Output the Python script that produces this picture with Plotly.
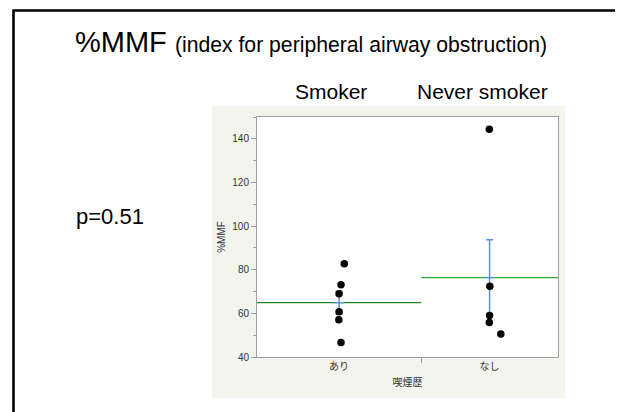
import numpy as np
import plotly.graph_objects as go

# ---- data ----
groups = ["あり", "なし"]                 # 喫煙歴: smoker / never smoker
smoker_vals = [82.7, 73.1, 69.0, 60.7, 57.1, 46.7]
smoker_jitter = [0.19, 0.07, 0.0, 0.0, -0.01, 0.07]
never_vals = [144.4, 72.4, 59.0, 55.8, 50.5]
never_jitter = [-0.01, 0.01, 0.0, -0.01, 0.41]
header_labels = ["Smoker", "Never smoker"]
y_ticks = [40, 60, 80, 100, 120, 140]
p_text = "p=0.51"

W, H = 623, 412
OFF = 8  # page body margin offset
L, R, T, B = 257 - OFF, 558 - OFF, 117 - OFF, 357 - OFF   # plot area in px


def px(x):
    return (x - OFF - L) / (R - L)


def py(y):
    return (B - (y - OFF)) / (B - T)


# group sections sized by n (JMP style)
n1, n2 = len(smoker_vals), len(never_vals)
sections = [(0, n1), (n1, n1 + n2)]
centers = [(a + b) / 2 for a, b in sections]
all_vals = [smoker_vals, never_vals]
all_jit = [smoker_jitter, never_jitter]

fig = go.Figure()

mean_colors = ["#228a22", "#2fa82f"]
blue = "#5a8ef5"
for i, vals in enumerate(all_vals):
    v = np.array(vals)
    m = v.mean()
    se = v.std(ddof=1) / np.sqrt(len(v))
    a, b = sections[i]
    fig.add_trace(go.Scatter(x=[a, b], y=[m, m], mode="lines",
                             line=dict(color=mean_colors[i], width=1.3),
                             hoverinfo="skip", showlegend=False))
    fig.add_trace(go.Scatter(x=[centers[i]], y=[m], mode="markers",
                             marker=dict(symbol="line-ew-open", size=7,
                                         color=blue, line=dict(color=blue, width=1.3)),
                             error_y=dict(type="data", array=[se], visible=True,
                                          color=blue, thickness=1.5, width=3.5),
                             hoverinfo="skip", showlegend=False))

for i, vals in enumerate(all_vals):
    xs = [centers[i] + j for j in all_jit[i]]
    fig.add_trace(go.Scatter(x=xs, y=vals, mode="markers",
                             marker=dict(color="black", size=7.5),
                             showlegend=False))

shapes = [
    # gray report panel
    dict(type="rect", xref="paper", yref="paper", layer="below",
         x0=px(212), x1=px(565), y0=py(398), y1=py(106),
         fillcolor="#f4f4ef", line=dict(width=0)),
    # white plot area
    dict(type="rect", xref="paper", yref="paper", layer="below",
         x0=0, x1=1, y0=0, y1=1, fillcolor="white", line=dict(width=0)),
    # outer black frame
    dict(type="rect", xref="paper", yref="paper",
         x0=px(13.5), x1=px(620), y0=py(440), y1=py(10.5),
         line=dict(color="black", width=2.6)),
]

annotations = [
    dict(text="%MMF <span style='font-size:21.2px'>(index for peripheral airway obstruction)</span>",
         x=px(73), y=py(42), xanchor="left", yanchor="middle",
         font=dict(size=29, color="black", family="Liberation Sans, Arial"),
         showarrow=False, xref="paper", yref="paper"),
    dict(text=header_labels[0], x=px(331), y=py(91.5), xanchor="center", yanchor="middle",
         font=dict(size=21, color="black", family="Liberation Sans, Arial"),
         showarrow=False, xref="paper", yref="paper"),
    dict(text=header_labels[1], x=px(482), y=py(91.5), xanchor="center", yanchor="middle",
         font=dict(size=21, color="black", family="Liberation Sans, Arial"),
         showarrow=False, xref="paper", yref="paper"),
    dict(text=p_text, x=px(74), y=py(216), xanchor="left", yanchor="middle",
         font=dict(size=22, color="black", family="Liberation Sans, Arial"),
         showarrow=False, xref="paper", yref="paper"),
]

fig.update_layout(
    width=W, height=H,
    margin=dict(l=L, r=W - R, t=T, b=H - B, pad=0),
    paper_bgcolor="white", plot_bgcolor="white",
    shapes=shapes, annotations=annotations,
    font=dict(family="Liberation Sans, Arial", color="#333333"),
    xaxis=dict(range=[0, n1 + n2], tickvals=centers, ticktext=groups,
               ticks="", showgrid=False, zeroline=False,
               showline=True, linecolor="#a0a0a0", linewidth=1, mirror=True,
               tickfont=dict(size=10, family="Noto Sans CJK JP", color="#333333"),
               minor=dict(tickvals=[n1], ticks="outside", ticklen=5,
                          tickcolor="#a0a0a0", showgrid=False),
               title=dict(text="喫煙歴", standoff=6,
                          font=dict(size=10, family="Noto Sans CJK JP", color="#333333"))),
    yaxis=dict(range=[40, 150], tickvals=y_ticks, ticks="outside", ticklen=5,
               tickcolor="#a0a0a0", showgrid=False, zeroline=False,
               showline=True, linecolor="#a0a0a0", linewidth=1, mirror=True,
               tickfont=dict(size=10, color="#333333"),
               minor=dict(dtick=10, tick0=50, ticks="outside", ticklen=3,
                          tickcolor="#a0a0a0", showgrid=False),
               title=dict(text="%MMF", standoff=4,
                          font=dict(size=10, color="#333333"))),
)

fig.write_html("out.html")
